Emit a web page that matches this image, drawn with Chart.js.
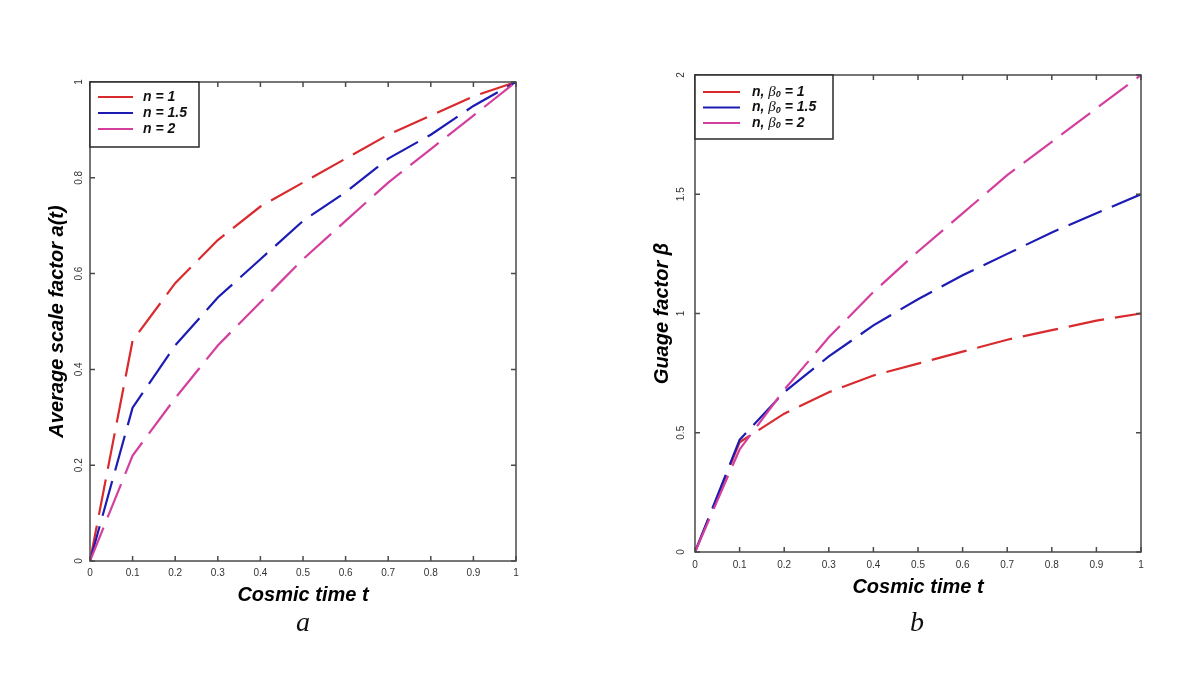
<!DOCTYPE html>
<html>
<head>
<meta charset="utf-8">
<script src="https://cdn.jsdelivr.net/npm/chart.js@4.4.1/dist/chart.umd.min.js"></script>
<style>
html, body { margin: 0; padding: 0; background: #fff; }
body { width: 1196px; height: 678px; position: relative; overflow: hidden; }
.panel { position: absolute; top: 0; width: 598px; height: 678px; }
#wrapA { left: 0; }
#wrapB { left: 598px; }
.caption { position: absolute; top: 608px; font-family: "Liberation Serif", "DejaVu Serif", serif; font-style: italic; font-size: 28px; line-height: 1; color: #111; }
</style>
</head>
<body>
<div class="panel" id="wrapA"><canvas id="chartA"></canvas></div>
<div class="panel" id="wrapB"><canvas id="chartB"></canvas></div>
<div class="caption" style="left: 296px;">a</div>
<div class="caption" style="left: 910px;">b</div>
<script>
// cosmic time samples (same for every curve)
var tValues = [0, 0.1, 0.2, 0.3, 0.4, 0.5, 0.6, 0.7, 0.8, 0.9, 1];

// panel a : average scale factor a(t)
var scaleN1 = [0, 0.46, 0.58, 0.67, 0.74, 0.79, 0.84, 0.89, 0.93, 0.97, 1];
var scaleN15 = [0, 0.32, 0.45, 0.55, 0.63, 0.71, 0.77, 0.84, 0.89, 0.95, 1];
var scaleN2 = [0, 0.22, 0.34, 0.45, 0.54, 0.63, 0.71, 0.79, 0.86, 0.93, 1];

// panel b : guage factor beta
var betaB1 = [0, 0.46, 0.58, 0.67, 0.74, 0.79, 0.84, 0.89, 0.93, 0.97, 1];
var betaB15 = [0, 0.47, 0.67, 0.82, 0.95, 1.06, 1.16, 1.25, 1.34, 1.42, 1.5];
var betaB2 = [0, 0.43, 0.68, 0.90, 1.09, 1.26, 1.42, 1.58, 1.72, 1.86, 2];

var labelsA = ['n = 1', 'n = 1.5', 'n = 2'];
var labelsB = ['n, \u03b2\u2080 = 1', 'n, \u03b2\u2080 = 1.5', 'n, \u03b2\u2080 = 2'];

var xTickLabels = ['0', '0.1', '0.2', '0.3', '0.4', '0.5', '0.6', '0.7', '0.8', '0.9', '1'];
var yTickLabelsA = ['0', '0.2', '0.4', '0.6', '0.8', '1'];
var yTickLabelsB = ['0', '0.5', '1', '1.5', '2'];

var lineColors = ['#d92a2e', '#1c1cb4', '#d43f9e'];

var sansFont = '"Liberation Sans", Arial, sans-serif';

function toPoints(values) {
    var pts = [];
    for (var i = 0; i < tValues.length; i++) {
        pts.push({x: tValues[i], y: values[i]});
    }
    return pts;
}

function makeDataset(label, values, idx) {
    return {
        label: label,
        data: toPoints(values),
        borderColor: lineColors[idx],
        backgroundColor: lineColors[idx],
        borderWidth: 2.2,
        borderDash: [36, 11],
        pointRadius: 0,
        showLine: true,
        tension: 0,
        order: 2 - idx // magenta on top, like the original
    };
}

function fixedTicks(labels) {
    return function (scale) {
        scale.ticks = labels.map(function (l) {
            return {value: parseFloat(l), label: l};
        });
    };
}

// draws the boxed axes, inward ticks, tick labels and the legend
var framePlugin = {
    id: 'frame',
    afterDraw: function (chart) {
        var o = chart.options.plugins.frame;
        var ctx = chart.ctx;
        var area = chart.chartArea;
        var xs = chart.scales.x;
        var ys = chart.scales.y;

        ctx.save();
        ctx.strokeStyle = '#4a4a4a';
        ctx.lineWidth = 1.5;
        ctx.strokeRect(area.left, area.top, area.right - area.left, area.bottom - area.top);

        ctx.beginPath();
        xs.ticks.forEach(function (t) {
            var px = xs.getPixelForValue(t.value);
            ctx.moveTo(px, area.bottom);
            ctx.lineTo(px, area.bottom - 5);
            ctx.moveTo(px, area.top);
            ctx.lineTo(px, area.top + 5);
        });
        ys.ticks.forEach(function (t) {
            var py = ys.getPixelForValue(t.value);
            ctx.moveTo(area.left, py);
            ctx.lineTo(area.left + 5, py);
            ctx.moveTo(area.right, py);
            ctx.lineTo(area.right - 5, py);
        });
        ctx.stroke();

        ctx.fillStyle = '#333';
        ctx.font = '10px ' + sansFont;
        ctx.textAlign = 'center';
        ctx.textBaseline = 'middle';
        xs.ticks.forEach(function (t, i) {
            ctx.fillText(o.xLabels[i], xs.getPixelForValue(t.value), area.bottom + o.xLabelGap);
        });
        ys.ticks.forEach(function (t, i) {
            ctx.save();
            ctx.translate(area.left - o.yLabelGap, ys.getPixelForValue(t.value));
            ctx.rotate(-Math.PI / 2);
            ctx.fillText(o.yLabels[i], 0, 0);
            ctx.restore();
        });

        // legend box in the upper left corner
        var lg = o.legend;
        ctx.fillStyle = '#fff';
        ctx.fillRect(area.left, area.top, lg.width, lg.height);
        ctx.strokeStyle = '#2a2a2a';
        ctx.lineWidth = 1.5;
        ctx.strokeRect(area.left, area.top, lg.width, lg.height);

        var boldFont = 'italic bold 14px ' + sansFont;
        chart.data.datasets.forEach(function (ds, i) {
            var y = area.top + lg.firstRow + i * lg.rowGap;
            ctx.strokeStyle = ds.borderColor;
            ctx.lineWidth = 2;
            ctx.setLineDash([]);
            ctx.beginPath();
            ctx.moveTo(area.left + lg.lineFrom, y);
            ctx.lineTo(area.left + lg.lineTo, y);
            ctx.stroke();

            ctx.fillStyle = '#111';
            ctx.textAlign = 'left';
            ctx.textBaseline = 'middle';
            var x = area.left + lg.textX;
            var parts = ds.label.split('\u03b2\u2080');
            ctx.font = boldFont;
            ctx.fillText(parts[0], x, y);
            x += ctx.measureText(parts[0]).width;
            if (parts.length > 1) {
                ctx.font = 'italic 15px "Liberation Serif", serif';
                ctx.fillText('\u03b2', x, y);
                x += ctx.measureText('\u03b2').width;
                ctx.font = 'italic bold 9px ' + sansFont;
                ctx.fillText('0', x, y + 3);
                x += ctx.measureText('0').width;
                ctx.font = boldFont;
                ctx.fillText(parts[1], x, y);
            }
        });
        ctx.restore();
    }
};

function makeChart(canvasId, datasets, cfg) {
    return new Chart(document.getElementById(canvasId), {
        type: 'scatter',
        data: {datasets: datasets},
        options: {
            responsive: true,
            maintainAspectRatio: false,
            animation: false,
            events: [],
            layout: {padding: {left: 0, top: cfg.top, right: cfg.right, bottom: 0}},
            scales: {
                x: {
                    type: 'linear',
                    min: 0,
                    max: 1,
                    afterBuildTicks: fixedTicks(xTickLabels),
                    afterFit: function (scale) { scale.height = cfg.xHeight; },
                    grid: {display: false, drawTicks: false},
                    border: {display: false},
                    ticks: {display: false},
                    title: {
                        display: true,
                        text: 'Cosmic time t',
                        color: '#000',
                        font: {family: sansFont, size: 20, weight: 'bold', style: 'italic'},
                        padding: {top: 0, bottom: cfg.xTitleBottom}
                    }
                },
                y: {
                    type: 'linear',
                    min: 0,
                    max: cfg.yMax,
                    afterBuildTicks: fixedTicks(cfg.yLabels),
                    afterFit: function (scale) { scale.width = cfg.yWidth; },
                    grid: {display: false, drawTicks: false},
                    border: {display: false},
                    ticks: {display: false},
                    title: {
                        display: true,
                        text: cfg.yTitle,
                        color: '#000',
                        font: {family: sansFont, size: 20, weight: 'bold', style: 'italic'},
                        padding: {top: cfg.yTitleTop, bottom: 0}
                    }
                }
            },
            plugins: {
                legend: {display: false},
                tooltip: {enabled: false},
                frame: {
                    xLabels: xTickLabels,
                    yLabels: cfg.yLabels,
                    xLabelGap: cfg.xLabelGap,
                    yLabelGap: cfg.yLabelGap,
                    legend: cfg.legend
                }
            }
        },
        plugins: [framePlugin]
    });
}

makeChart('chartA', [
    makeDataset(labelsA[0], scaleN1, 0),
    makeDataset(labelsA[1], scaleN15, 1),
    makeDataset(labelsA[2], scaleN2, 2)
], {
    top: 82, right: 82, xHeight: 117, yWidth: 90, yMax: 1,
    yLabels: yTickLabelsA,
    yTitle: 'Average scale factor a(t)',
    xTitleBottom: 71, yTitleTop: 45,
    xLabelGap: 12, yLabelGap: 11,
    legend: {width: 109, height: 65, firstRow: 15, rowGap: 16, lineFrom: 8, lineTo: 43, textX: 53}
});

makeChart('chartB', [
    makeDataset(labelsB[0], betaB1, 0),
    makeDataset(labelsB[1], betaB15, 1),
    makeDataset(labelsB[2], betaB2, 2)
], {
    top: 75, right: 55, xHeight: 126, yWidth: 97, yMax: 2,
    yLabels: yTickLabelsB,
    yTitle: 'Guage factor \u03b2',
    xTitleBottom: 79, yTitleTop: 52,
    xLabelGap: 13, yLabelGap: 14,
    legend: {width: 138, height: 64, firstRow: 17, rowGap: 15.5, lineFrom: 8, lineTo: 45, textX: 57}
});
</script>
</body>
</html>
